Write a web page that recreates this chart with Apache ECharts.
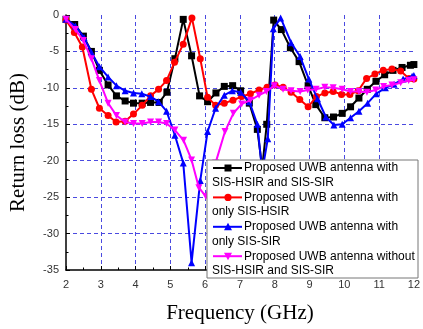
<!DOCTYPE html>
<html><head><meta charset="utf-8">
<script src="https://cdn.jsdelivr.net/npm/echarts@6/dist/echarts.min.js"></script>
<style>html,body{margin:0;padding:0;background:#fff}#c{width:423px;height:329px}</style>
</head><body><div id="c"></div>
<script>
var xTicks = [2,3,4,5,6,7,8,9,10,11,12];
var yTicks = [0,-5,-10,-15,-20,-25,-30,-35];
var seriesNames = [
  ["Proposed UWB antenna with", "SIS-HSIR and SIS-SIR"],
  ["Proposed UWB antenna with", "only SIS-HSIR"],
  ["Proposed UWB antenna with", "only SIS-SIR"],
  ["Proposed UWB antenna without", "SIS-HSIR and SIS-SIR"]
];
var black = [[2.0,-0.6],[2.25,-1.3],[2.5,-2.9],[2.73,-5.0],[2.96,-7.6],[3.21,-9.6],[3.45,-11.1],[3.7,-11.8],[3.94,-12.1],[4.19,-12.1],[4.43,-12.0],[4.68,-12.0],[4.9,-10.6],[5.13,-6.0],[5.37,-0.6],[5.61,-5.6],[5.84,-11.1],[6.07,-11.9],[6.31,-10.7],[6.55,-9.8],[6.79,-9.7],[7.02,-10.4],[7.27,-12.1],[7.5,-15.7],[7.64,-21.0],[7.77,-15.0],[7.97,-0.7],[8.19,-2.0],[8.45,-4.5],[8.7,-6.4],[8.96,-9.7],[9.18,-12.3],[9.44,-14.1],[9.69,-14.0],[9.94,-13.5],[10.18,-12.6],[10.42,-11.4],[10.66,-10.2],[10.91,-9.1],[11.16,-8.2],[11.4,-7.6],[11.66,-7.2],[11.9,-6.9],[12.0,-6.8]];
var red = [[2.0,-0.7],[2.24,-2.4],[2.47,-4.4],[2.73,-10.2],[2.96,-12.8],[3.21,-13.8],[3.44,-14.7],[3.7,-14.6],[3.94,-13.6],[4.19,-12.4],[4.43,-11.1],[4.66,-10.2],[4.89,-9.0],[5.12,-6.5],[5.37,-4.0],[5.62,-0.4],[5.86,-6.0],[6.07,-11.3],[6.3,-12.4],[6.55,-12.1],[6.8,-11.7],[7.05,-11.2],[7.3,-10.8],[7.55,-10.3],[7.78,-9.9],[8.01,-9.6],[8.24,-9.9],[8.47,-10.6],[8.72,-11.6],[8.96,-12.6],[9.2,-11.2],[9.44,-10.7],[9.68,-10.5],[9.92,-10.9],[10.16,-10.9],[10.4,-10.4],[10.64,-8.7],[10.88,-8.1],[11.12,-7.6],[11.37,-7.4],[11.62,-7.7],[11.86,-8.7],[12.0,-8.8]];
var blue = [[2.0,-0.6],[2.27,-1.5],[2.52,-3.1],[2.73,-5.1],[2.96,-7.1],[3.21,-8.5],[3.45,-9.7],[3.7,-10.4],[3.94,-10.7],[4.18,-10.8],[4.43,-11.2],[4.66,-11.9],[4.89,-13.2],[5.13,-16.5],[5.37,-20.3],[5.61,-34.0],[5.86,-22.7],[6.07,-16.0],[6.3,-12.8],[6.55,-11.0],[6.78,-10.4],[7.02,-10.6],[7.27,-11.9],[7.5,-15.0],[7.64,-21.5],[7.8,-17.0],[7.96,-1.9],[8.17,-0.4],[8.47,-3.8],[8.73,-5.7],[8.98,-8.8],[9.23,-11.5],[9.47,-14.0],[9.7,-15.1],[9.94,-15.0],[10.18,-14.1],[10.42,-13.2],[10.67,-12.1],[10.92,-10.8],[11.18,-10.0],[11.43,-9.5],[11.69,-8.8],[11.95,-8.4],[12.0,-8.3]];
var magenta = [[2.0,-0.6],[2.27,-2.0],[2.5,-3.5],[2.73,-6.0],[2.96,-9.0],[3.21,-12.1],[3.45,-13.8],[3.7,-14.7],[3.94,-14.9],[4.19,-14.9],[4.43,-14.7],[4.66,-14.7],[4.89,-14.9],[5.13,-15.8],[5.38,-17.2],[5.61,-19.9],[5.82,-23.7],[6.02,-24.9],[6.3,-20.3],[6.57,-16.0],[6.81,-13.5],[7.05,-12.2],[7.3,-11.7],[7.55,-11.0],[7.76,-10.5],[7.99,-9.7],[8.24,-10.2],[8.47,-10.4],[8.73,-10.5],[8.95,-10.3],[9.19,-10.2],[9.44,-9.9],[9.68,-10.0],[9.94,-10.2],[10.18,-10.5],[10.42,-10.5],[10.65,-10.6],[10.9,-10.3],[11.13,-9.8],[11.37,-9.6],[11.62,-9.3],[11.85,-9.0],[12.0,-8.9]];

var colors = ['#000000','#ff0000','#0000ff','#ff00ff'];
var symbols = ['rect','circle','triangle','triangle'];
var rotates = [0,0,0,180];
var datas = [black, red, blue, magenta];

var chart = echarts.init(document.getElementById('c'), null, {renderer:'canvas'});
var series = datas.map(function(d,i){
  return {
    type:'line', name: seriesNames[i].join(' '), data:d,
    symbol: symbols[i], symbolSize: 7, symbolRotate: rotates[i],
    showAllSymbol:true, clip:false,
    lineStyle:{color:colors[i], width:2},
    itemStyle:{color:colors[i]},
    z: 3+i, animation:false
  };
});

// legend drawn as graphic
var lg = [];
var L = 207, T = 160, W = 211, H = 118;
var ZL = 1;
lg.push({type:'rect', zlevel:ZL, z:10, shape:{x:L,y:T,width:W,height:H}, style:{fill:'#fff', stroke:'#777', lineWidth:1}});
var font = '12px "Liberation Sans", Arial, sans-serif';
for (var i=0;i<4;i++){
  var y1 = 168 + i*29.4;
  lg.push({type:'line', zlevel:ZL, z:11, shape:{x1:213,y1:y1,x2:242,y2:y1}, style:{stroke:colors[i], lineWidth:2}});
  var sym;
  if (i===0) sym = {type:'rect', shape:{x:224.5,y:y1-3.5,width:7,height:7}, style:{fill:colors[i]}};
  else if (i===1) sym = {type:'circle', shape:{cx:228,cy:y1,r:3.6}, style:{fill:colors[i]}};
  else if (i===2) sym = {type:'polygon', shape:{points:[[228,y1-4],[232,y1+3.5],[224,y1+3.5]]}, style:{fill:colors[i]}};
  else sym = {type:'polygon', shape:{points:[[228,y1+4],[232,y1-3.5],[224,y1-3.5]]}, style:{fill:colors[i]}};
  sym.zlevel = ZL; sym.z = 12;
  lg.push(sym);
  lg.push({type:'text', zlevel:ZL, z:12, x:244, y:y1, style:{text:seriesNames[i][0], fill:'#000', font:font, verticalAlign:'middle'}});
  lg.push({type:'text', zlevel:ZL, z:12, x:212, y:y1+14.5, style:{text:seriesNames[i][1], fill:'#000', font:font, verticalAlign:'middle'}});
}

chart.setOption({
  animation:false,
  backgroundColor:'#fff',
  grid:{left:57, top:15, right:5, bottom:50, containLabel:false},
  xAxis:{
    type:'value', min:xTicks[0], max:xTicks[xTicks.length-1], interval:1,
    name:'Frequency (GHz)', nameLocation:'middle', nameGap:33,
    nameTextStyle:{fontFamily:'"Liberation Serif", "Times New Roman", serif', fontSize:21, color:'#000'},
    axisLine:{show:true, onZero:false, lineStyle:{color:'#000', width:1.5}},
    axisTick:{show:true, inside:true, length:4, lineStyle:{color:'#000', width:1}},
    minorTick:{show:true, splitNumber:2, length:2.5, lineStyle:{color:'#000', width:1}},
    axisLabel:{color:'#333', fontSize:11, fontFamily:'"Liberation Sans", Arial, sans-serif', margin:9},
    splitLine:{show:true, showMinLine:false, showMaxLine:false, lineStyle:{color:'#4a4ae0', type:[4,3], width:1}}
  },
  yAxis:{
    type:'value', min:yTicks[yTicks.length-1], max:yTicks[0], interval:5,
    name:'Return loss (dB)', nameLocation:'middle', nameGap:37, nameRotate:90,
    nameTextStyle:{fontFamily:'"Liberation Serif", "Times New Roman", serif', fontSize:21, color:'#000'},
    axisLine:{show:true, onZero:false, lineStyle:{color:'#000', width:1.5}},
    axisTick:{show:true, inside:true, length:4, lineStyle:{color:'#000', width:1}},
    minorTick:{show:true, splitNumber:2, length:2.5, lineStyle:{color:'#000', width:1}},
    axisLabel:{color:'#333', fontSize:11, fontFamily:'"Liberation Sans", Arial, sans-serif', margin:7},
    splitLine:{show:true, showMinLine:false, showMaxLine:false, lineStyle:{color:'#4a4ae0', type:[4,3], width:1}}
  },
  series: series,
  graphic:{elements: lg}
});
</script></body></html>
